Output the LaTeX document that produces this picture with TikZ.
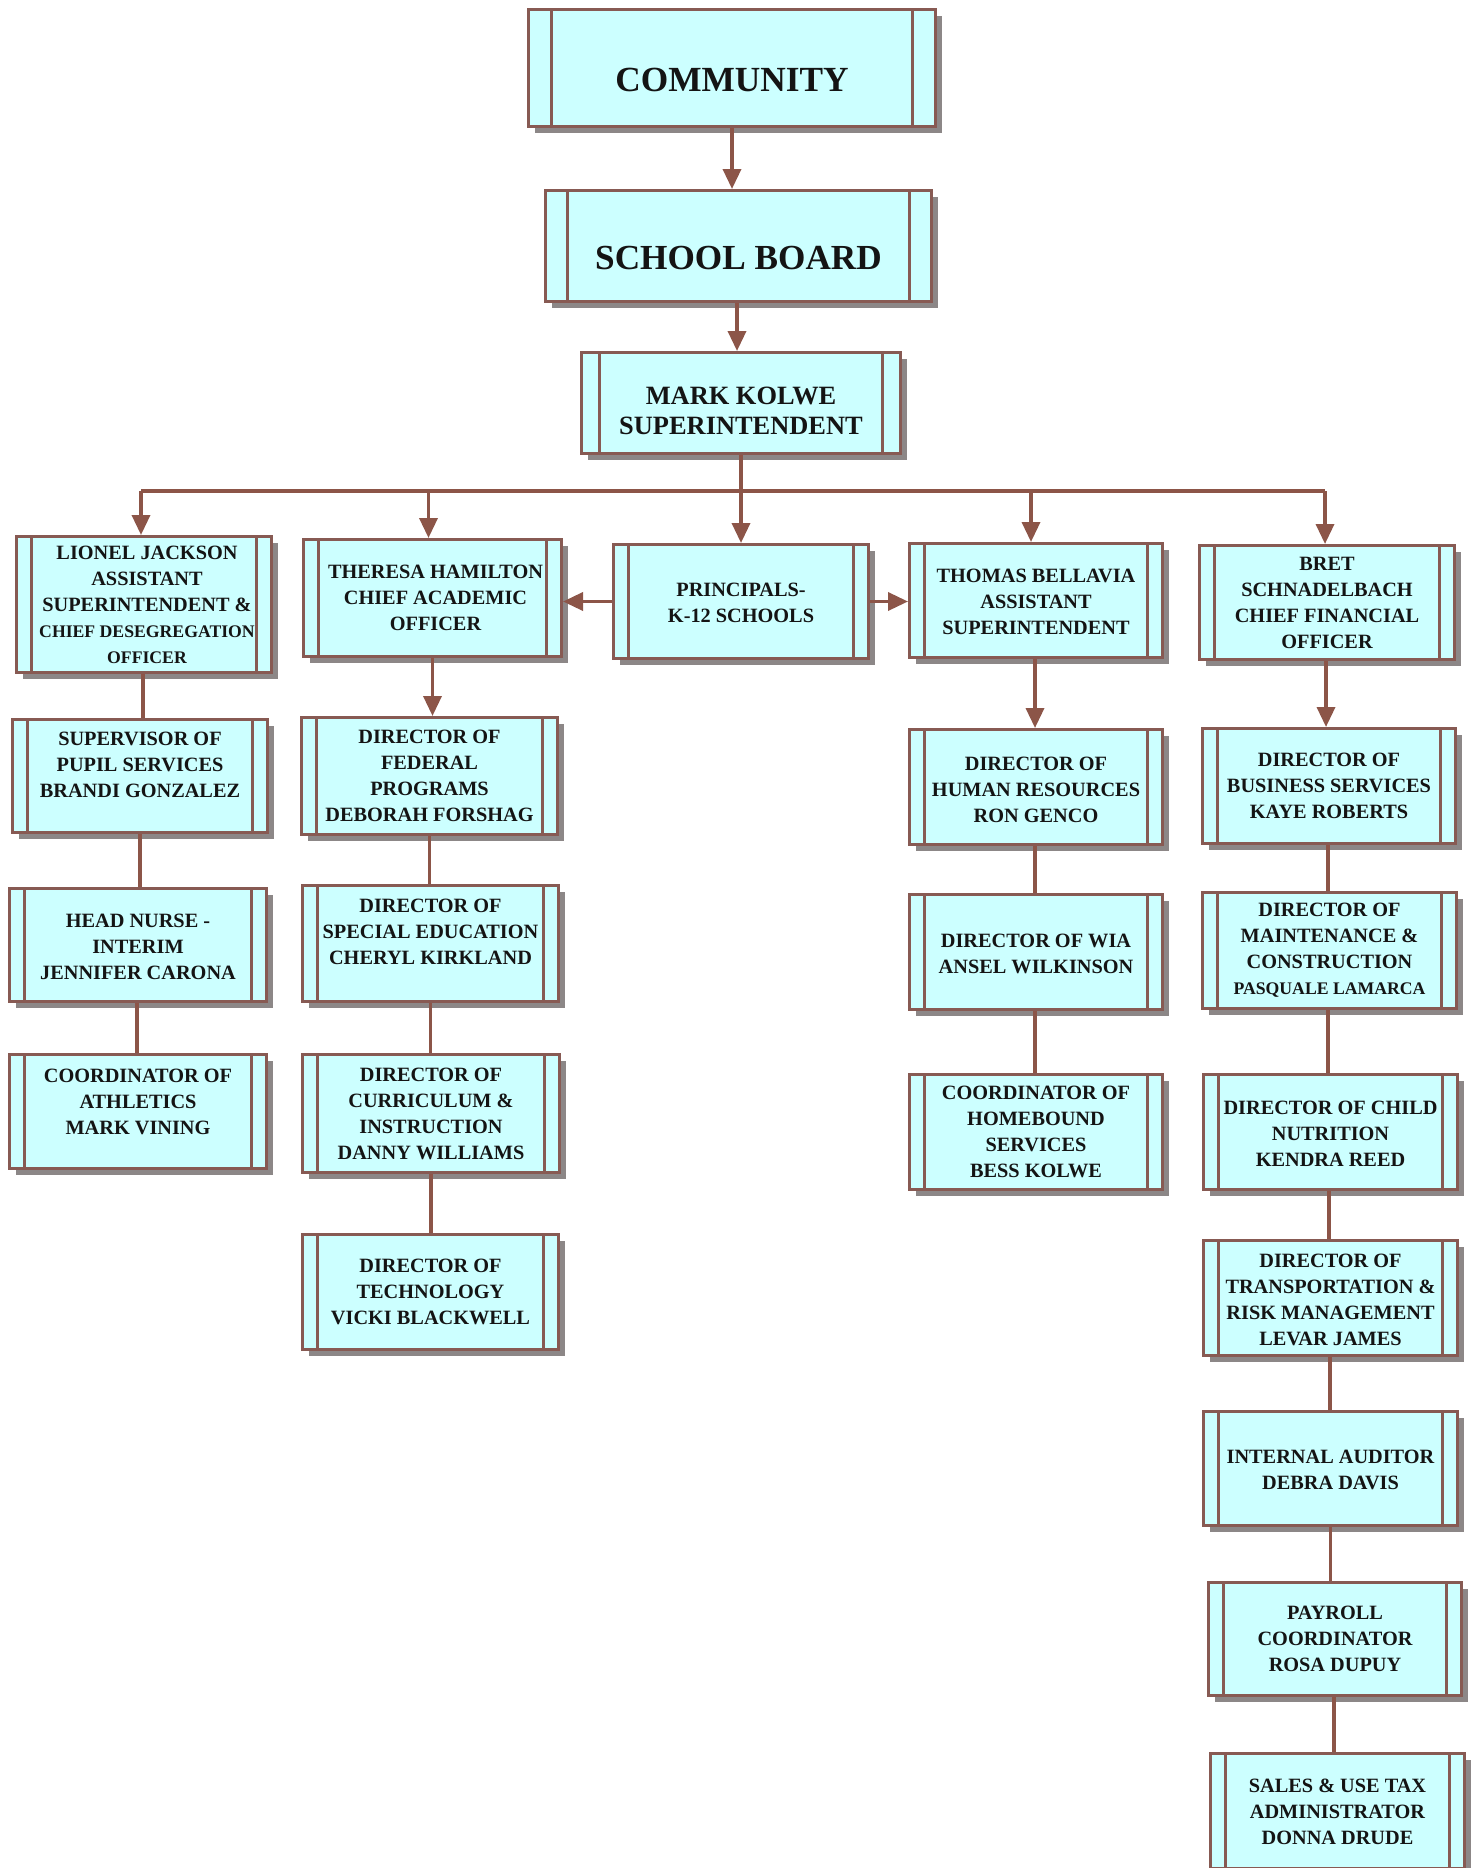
\documentclass[tikz,border=0pt]{standalone}
\usepackage{fontspec}
\setmainfont{Liberation Serif}
\usetikzlibrary{arrows.meta,shadows}
\definecolor{bord}{HTML}{875A53}
\definecolor{cyanf}{HTML}{CCFFFF}
\definecolor{shad}{HTML}{8C8787}
\definecolor{lnk}{HTML}{8C5548}
\tikzset{
  boxshape/.style={rectangle, draw=bord, line width=3pt, fill=cyanf, inner sep=0pt,
    drop shadow={shadow xshift=6.5pt, shadow yshift=-6.5pt, fill=shad, opacity=1},
    path picture={\draw[bord, line width=3pt]
      ([xshift=#1]path picture bounding box.north west) -- ([xshift=#1]path picture bounding box.south west)
      ([xshift=-#1]path picture bounding box.north east) -- ([xshift=-#1]path picture bounding box.south east);}},
  boxshape/.default=15pt,
  boxtext/.style={align=center, inner sep=0pt, font=\bfseries\fontsize{20.3}{26}\selectfont, text=black!92},
  link/.style={draw=lnk, line width=3.5pt},
  arr/.style={link, -{Triangle[length=20pt,width=18pt]}},
}
% #1 inset, #2 name, #3 cx, #4 cy, #5 outer width, #6 outer height, #7 text options, #8 text
\newcommand{\orgbox}[8][15pt]{%
  \node[boxshape=#1, minimum width=#5pt-3pt, minimum height=#6pt-3pt] (#2) at (#3,#4) {};
  \node[boxtext, #7] (#2-txt) at (#2.center) {#8};
}
\newcommand{\smallf}{\fontsize{17.7}{22}\selectfont}
\begin{document}
\begin{tikzpicture}[x=1pt,y=-1pt]
\useasboundingbox (0,0) rectangle (1477,1868);

% top
\orgbox[23pt]{comm}{732}{68}{410}{120}{yshift=-12pt, font=\bfseries\fontsize{35.3}{40}\selectfont}{COMMUNITY}
\orgbox[22pt]{board}{738.5}{246}{389}{114}{yshift=-12.5pt, font=\bfseries\fontsize{35.2}{40}\selectfont}{SCHOOL BOARD}
\orgbox[18pt]{supt}{741}{403}{322}{104}{yshift=-8pt, font=\bfseries\fontsize{26.4}{30.5}\selectfont}{MARK KOLWE\\SUPERINTENDENT}

% row 2
\orgbox{lionel}{144}{604.5}{258}{139}{xshift=3pt}{LIONEL JACKSON\\ASSISTANT\\SUPERINTENDENT \&\\\smallf CHIEF DESEGREGATION\\\smallf OFFICER}
\orgbox{theresa}{432.5}{598}{261}{120}{xshift=3pt}{THERESA HAMILTON\\CHIEF ACADEMIC\\OFFICER}
\orgbox{princ}{741}{601.5}{258}{117}{yshift=-1.5pt}{PRINCIPALS-\\K-12 SCHOOLS}
\orgbox{thomas}{1036}{600.5}{256}{117}{yshift=-1.5pt}{THOMAS BELLAVIA\\ASSISTANT\\SUPERINTENDENT}
\orgbox{bret}{1327}{602.5}{258}{117}{}{BRET\\SCHNADELBACH\\CHIEF FINANCIAL\\OFFICER}

% column 1
\orgbox{pupil}{140}{776}{258}{116}{yshift=11pt}{SUPERVISOR OF\\PUPIL SERVICES\\BRANDI GONZALEZ}
\orgbox{nurse}{138}{945}{260}{116}{yshift=-2pt}{HEAD NURSE -\\INTERIM\\JENNIFER CARONA}
\orgbox{ath}{138}{1111.5}{260}{117}{yshift=10pt}{COORDINATOR OF\\ATHLETICS\\MARK VINING}

% column 2
\orgbox{fed}{429.5}{776}{259}{120}{}{DIRECTOR OF\\FEDERAL\\PROGRAMS\\DEBORAH FORSHAG}
\orgbox{sped}{430.5}{943.5}{259}{119}{yshift=12pt}{DIRECTOR OF\\SPECIAL EDUCATION\\CHERYL KIRKLAND}
\orgbox{curr}{431}{1113.5}{260}{121}{}{DIRECTOR OF\\CURRICULUM \&\\INSTRUCTION\\DANNY WILLIAMS}
\orgbox{tech}{430.5}{1292}{259}{118}{}{DIRECTOR OF\\TECHNOLOGY\\VICKI BLACKWELL}

% column 4
\orgbox{hr}{1036}{787}{256}{118}{yshift=-3pt}{DIRECTOR OF\\HUMAN RESOURCES\\RON GENCO}
\orgbox{wia}{1036}{952}{256}{118}{yshift=-2pt}{DIRECTOR OF WIA\\ANSEL WILKINSON}
\orgbox{home}{1036}{1132}{256}{118}{}{COORDINATOR OF\\HOMEBOUND\\SERVICES\\BESS KOLWE}

% column 5
\orgbox{busserv}{1329}{786}{256}{118}{}{DIRECTOR OF\\BUSINESS SERVICES\\KAYE ROBERTS}
\orgbox{maint}{1329.5}{950.5}{257}{119}{}{DIRECTOR OF\\MAINTENANCE \&\\CONSTRUCTION\\\smallf PASQUALE LAMARCA}
\orgbox{child}{1330.5}{1132}{257}{118}{yshift=-2pt}{DIRECTOR OF CHILD\\NUTRITION\\KENDRA REED}
\orgbox{trans}{1330.5}{1298}{257}{118}{yshift=-2pt}{DIRECTOR OF\\TRANSPORTATION \&\\RISK MANAGEMENT\\LEVAR JAMES}
\orgbox{audit}{1330.5}{1468.5}{257}{117}{yshift=-1.5pt}{INTERNAL AUDITOR\\DEBRA DAVIS}
\orgbox{pay}{1335}{1639}{256}{116}{}{PAYROLL\\COORDINATOR\\ROSA DUPUY}
\orgbox{sales}{1337.5}{1811}{257}{118}{yshift=-1pt}{SALES \& USE TAX\\ADMINISTRATOR\\DONNA DRUDE}

% connectors
\coordinate (busline) at (740,491);
\draw[arr] (comm.south) -- (comm.south |- board.north);
\draw[arr] ([xshift=-1.5pt]board.south) -- ([xshift=-1.5pt]board.south |- supt.north);
\draw[link] (supt.south) -- (supt.south |- busline);
\draw[link] ([xshift=-3pt]lionel.north |- busline) -- ([xshift=-2pt]bret.north |- busline);
\draw[arr] ([xshift=-3pt]lionel.north |- busline) -- ([xshift=-3pt]lionel.north);
\draw[arr] ([xshift=-4pt]theresa.north |- busline) -- ([xshift=-4pt]theresa.north);
\draw[arr] (princ.north |- busline) -- (princ.north);
\draw[arr] ([xshift=-5pt]thomas.north |- busline) -- ([xshift=-5pt]thomas.north);
\draw[arr] ([xshift=-2pt]bret.north |- busline) -- ([xshift=-2pt]bret.north);
\draw[arr] (princ.west) -- (princ.west -| theresa.east);
\draw[arr] (princ.east) -- (princ.east -| thomas.west);

\draw[link] ([xshift=-1pt]lionel.south) -- ([xshift=-1pt]lionel.south |- pupil.north);
\draw[link] (pupil.south) -- (pupil.south |- nurse.north);
\draw[link] ([xshift=-1pt]nurse.south) -- ([xshift=-1pt]nurse.south |- ath.north);

\draw[arr] (theresa.south) -- (theresa.south |- fed.north);
\draw[link] (fed.south) -- (fed.south |- sped.north);
\draw[link] (sped.south) -- (sped.south |- curr.north);
\draw[link] (curr.south) -- (curr.south |- tech.north);

\draw[arr] ([xshift=-1pt]thomas.south) -- ([xshift=-1pt]thomas.south |- hr.north);
\draw[link] ([xshift=-1pt]hr.south) -- ([xshift=-1pt]hr.south |- wia.north);
\draw[link] ([xshift=-1pt]wia.south) -- ([xshift=-1pt]wia.south |- home.north);

\draw[arr] ([xshift=-1pt]bret.south) -- ([xshift=-1pt]bret.south |- busserv.north);
\draw[link] ([xshift=-1pt]busserv.south) -- ([xshift=-1pt]busserv.south |- maint.north);
\draw[link] ([xshift=-1.5pt]maint.south) -- ([xshift=-1.5pt]maint.south |- child.north);
\draw[link] ([xshift=-1.5pt]child.south) -- ([xshift=-1.5pt]child.south |- trans.north);
\draw[link] ([xshift=-0.5pt]trans.south) -- ([xshift=-0.5pt]trans.south |- audit.north);
\draw[link] (audit.south) -- (audit.south |- pay.north);
\draw[link] ([xshift=-1pt]pay.south) -- ([xshift=-1pt]pay.south |- sales.north);
\end{tikzpicture}
\end{document}
